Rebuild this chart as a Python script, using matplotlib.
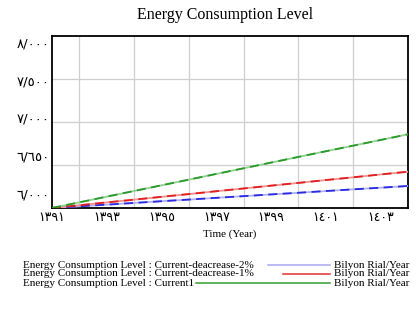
import matplotlib
matplotlib.use("Agg")
import matplotlib.pyplot as plt
from matplotlib.lines import Line2D

years = list(range(1391, 1405))
current1 = [6000, 6066, 6132, 6198, 6264, 6330, 6396, 6462, 6528, 6594, 6660, 6725, 6791, 6857]
dec1 = [6000, 6032, 6065, 6097, 6130, 6162, 6195, 6227, 6260, 6292, 6325, 6357, 6390, 6422]
dec2 = [6000, 6020, 6039, 6059, 6079, 6098, 6118, 6138, 6158, 6177, 6197, 6217, 6236, 6256]

xtick_vals = [1391, 1393, 1395, 1397, 1399, 1401, 1403]
xtick_labels = ["١٣٩١", "١٣٩٣", "١٣٩٥", "١٣٩٧", "١٣٩٩", "١٤٠١", "١٤٠٣"]
ytick_vals = [6174, 6616, 7058, 7488, 7930]
ytick_labels = ["٦/٠٠٠", "٦/٦٥٠", "٧/٠٠٠", "٧/٥٠٠", "٨/٠٠٠"]

legend_names = ["Energy Consumption Level : Current-deacrease-2%",
                "Energy Consumption Level : Current-deacrease-1%",
                "Energy Consumption Level : Current1"]
unit = "Bilyon Rial/Year"

serif = ["Liberation Serif", "DejaVu Serif"]

fig = plt.figure(figsize=(4.16, 3.12), dpi=100)
ax = fig.add_axes([52/416, 1-208/312, (408-52)/416, (208-36)/312])

ax.set_xlim(1391, 1404)
ax.set_ylim(6000, 8000)
ax.set_xticks(range(1391, 1405), minor=True)
ax.set_yticks([6500, 7000, 7500], minor=True)
ax.grid(which="minor", color="#cfcfcf", linewidth=0.9)
ax.set_xticks(xtick_vals)
ax.set_xticklabels(xtick_labels, family=["DejaVu Sans"], fontsize=9)
ax.set_yticks(ytick_vals)
ax.set_yticklabels(ytick_labels, family=["DejaVu Sans"], fontsize=9.5)
ax.tick_params(which="both", length=0)
ax.tick_params(axis="x", pad=2)
ax.tick_params(axis="y", pad=2)
for s in ax.spines.values():
    s.set_color("black")
    s.set_linewidth(1.3)

series = [(dec2, "#b0b0f0", "#2a2ae0"), (dec1, "#f09090", "#e02020"), (current1, "#90d090", "#2a9a2a")]
for vals, light, dark in series:
    ax.plot(years, vals, color=light, linewidth=1.3, zorder=3)
    ax.plot(years, vals, color=dark, linewidth=1.3, dashes=(5, 3), zorder=4)

ax.set_xlabel("Time (Year)", family=serif, fontsize=8, labelpad=4)
fig.text(0.542, 1-15/312, "Energy Consumption Level", family=serif, fontsize=11.5,
         ha="center", va="center")

rows = [265, 274, 283]
line_cols = ["#a8a8f0", "#e03030", "#30a030"]
line_starts = [268, 283, 196]
for name, y, c, x0 in zip(legend_names, rows, line_cols, line_starts):
    yf = 1 - y/312
    fig.text(23/416, yf, name, family=serif, fontsize=8, ha="left", va="center")
    fig.add_artist(Line2D([x0/416, 330/416], [yf, yf], color=c, linewidth=1.1,
                          transform=fig.transFigure))
    fig.text(334/416, yf, unit, family=serif, fontsize=8, ha="left", va="center")

fig.savefig("out.png", dpi=100)
